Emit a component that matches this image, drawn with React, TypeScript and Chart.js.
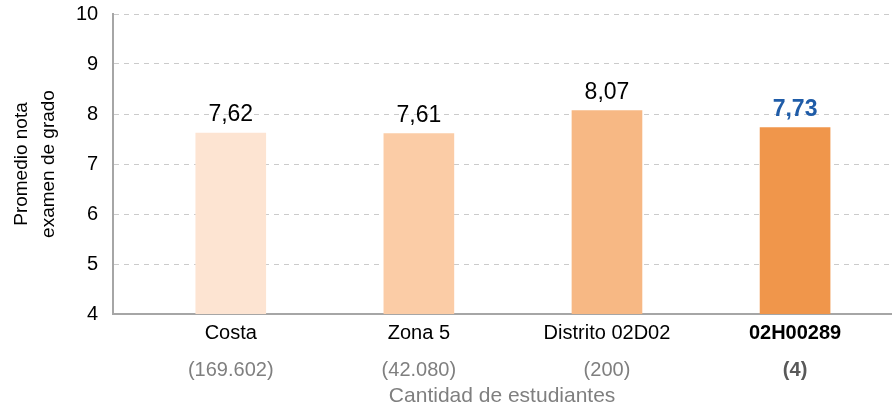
import React, { useEffect, useRef } from "react";
import { Chart, registerables } from "chart.js";

Chart.register(...registerables);

const categories = ["Costa", "Zona 5", "Distrito 02D02", "02H00289"];
const counts = ["(169.602)", "(42.080)", "(200)", "(4)"];
const values = [7.62, 7.61, 8.07, 7.73];
const barColors = ["#FDE4D2", "#FBCCA6", "#F7B884", "#F0964B"];
const yTicks = [4, 5, 6, 7, 8, 9, 10];

const FONT = "'Liberation Sans', Arial, Helvetica, sans-serif";

const valueLabels = {
  id: "valueLabels",
  afterDatasetsDraw(chart: any) {
    const ctx = chart.ctx;
    const meta = chart.getDatasetMeta(0);
    meta.data.forEach((bar: any, i: number) => {
      const last = i === values.length - 1;
      ctx.save();
      ctx.font = `${last ? "bold " : ""}23px ${FONT}`;
      ctx.fillStyle = last ? "#1F5CA8" : "#000000";
      ctx.textAlign = "center";
      ctx.textBaseline = "alphabetic";
      ctx.fillText(values[i].toFixed(2).replace(".", ","), bar.x, bar.y - 12);
      ctx.restore();
    });
  },
};

const catTicks = (axis: any) => {
  axis.ticks = categories.map((_, i) => ({ value: i }));
};

export default function App() {
  const ref = useRef<HTMLCanvasElement>(null);
  useEffect(() => {
    document.body.style.margin = "0";
    const chart = new Chart(ref.current!, {
      type: "bar",
      data: {
        datasets: [
          {
            data: values.map((v, i) => ({ x: i, y: v })),
            backgroundColor: barColors,
            barThickness: 70,
            borderWidth: 0,
          },
        ],
      },
      plugins: [valueLabels],
      options: {
        animation: false,
        responsive: false,
        maintainAspectRatio: false,
        layout: { padding: { top: 2, right: 4, left: 8, bottom: 2 } },
        plugins: { legend: { display: false }, tooltip: { enabled: false } },
        scales: {
          y: {
            min: 4,
            max: 10,
            afterBuildTicks: (axis: any) => {
              axis.ticks = yTicks.map((v) => ({ value: v }));
            },
            afterFit: (axis: any) => {
              axis.paddingTop = 14;
              axis.paddingBottom = 12;
            },
            ticks: {
              color: "#000",
              font: { family: FONT, size: 20 },
              padding: 15,
            },
            grid: {
              color: "#CBCBCB",
              lineWidth: 1,
              drawTicks: false,
            },
            border: { color: "#A6A6A6", width: 2, dash: [5, 5] } as any,
            title: {
              display: true,
              text: ["Promedio nota", "examen de grado"],
              color: "#000",
              font: { family: FONT, size: 19, lineHeight: 1.42 },
              padding: { top: 0, bottom: -1 },
            },
          },
          x: {
            type: "linear",
            offset: false,
            min: -0.625,
            max: 3.51,
            afterBuildTicks: catTicks,
            grid: { display: false, drawTicks: false },
            border: { color: "#A6A6A6", width: 2 },
            ticks: {
              color: "#000",
              padding: 7,
              callback: (v: any) => categories[v],
              font: (c: any) => ({
                family: FONT,
                size: 20,
                weight: c.index === 3 ? "bold" : "normal",
              }),
            },
          },
          x2: {
            type: "linear",
            offset: false,
            min: -0.625,
            max: 3.51,
            position: "bottom",
            afterBuildTicks: catTicks,
            grid: { display: false, drawTicks: false },
            border: { display: false },
            ticks: {
              padding: 6,
              callback: (v: any) => counts[v],
              color: (c: any) => (c.index === 3 ? "#595959" : "#7F7F7F"),
              font: (c: any) => ({
                family: FONT,
                size: 20,
                weight: c.index === 3 ? "bold" : "normal",
              }),
            },
            title: {
              display: true,
              text: "Cantidad de estudiantes",
              color: "#7F7F7F",
              font: { family: FONT, size: 21, lineHeight: 1.0 },
              padding: { top: -2, bottom: 0 },
            },
          },
        },
      } as any,
    });
    return () => chart.destroy();
  }, []);
  return (
    <div style={{ width: 895, height: 409 }}>
      <canvas ref={ref} width={895} height={409} style={{ display: "block" }} />
    </div>
  );
}
